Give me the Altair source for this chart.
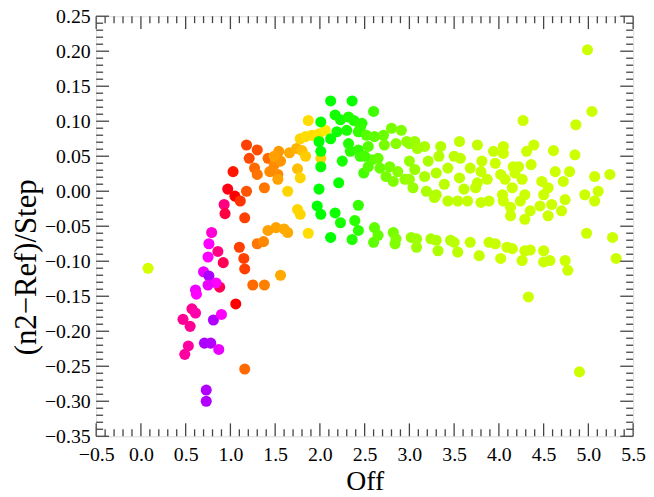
import altair as alt
import pandas as pd
import numpy as np

off = [0.08, 0.79, 0.76, 0.86, 0.92, 0.75, 0.70, 0.76, 0.88, 0.61, 0.62, 0.57, 0.61, 0.47, 0.55, 0.81, 0.90,
       0.71, 0.78, 0.87, 0.53, 0.49, 0.73, 0.73, 0.93, 0.94, 0.97, 1.05, 1.03, 0.84, 0.75,
       1.06, 1.10, 1.15, 1.16, 1.25, 1.38, 1.16, 1.11, 1.16, 1.18, 1.18, 1.30, 1.21, 1.42, 1.27, 1.30, 1.38,
       1.49, 1.54, 1.56, 1.53, 1.64, 1.30, 1.37, 1.42, 1.51, 1.60, 1.64, 1.56, 1.75, 1.78, 1.87, 1.75, 1.78,
       1.66, 1.74, 1.80, 1.49, 1.44, 1.53,
       1.87, 1.78, 1.84, 1.91, 1.99, 2.06, 2.01, 1.84,
       2.12, 2.36, 2.01, 2.17, 2.23, 2.38, 2.47, 1.99, 2.01, 2.12, 2.19, 2.30, 2.32, 2.43, 2.25, 2.01, 2.21,
       1.99, 2.34, 2.43, 2.45, 2.49, 1.97, 2.01, 2.17, 2.23, 2.39, 2.43, 2.36, 2.12, 2.43, 2.60, 2.45, 2.32,
       2.52, 2.61, 2.71, 2.80, 2.91, 3.00, 2.85, 2.72, 2.54, 2.58, 2.67, 2.74, 2.54, 2.50, 2.65, 2.78, 2.87,
       2.95, 2.82, 3.04, 3.06, 2.97, 3.06, 3.17, 3.09, 2.61, 2.65, 2.60, 2.82, 2.85, 2.84, 3.02, 3.08, 3.08, 3.00,
       3.35, 3.56, 3.76, 3.94, 4.05, 4.05, 4.27, 3.21, 3.33, 3.50, 3.57, 3.81, 3.68, 3.80, 3.96, 4.16,
       3.17, 3.30, 3.43, 3.56, 3.00, 3.19, 3.39, 3.30, 3.61, 3.74, 3.76, 3.87, 4.02, 4.07, 4.18, 4.26, 4.04, 4.15,
       3.43, 3.54, 3.65, 3.80, 3.89, 4.05, 4.13, 4.24, 3.28, 4.13, 4.29,
       3.24, 3.30, 3.32, 3.46, 3.50, 3.54, 3.68, 3.78, 3.89, 3.96, 4.02, 4.09, 4.15, 4.26, 4.29, 4.35, 4.50,
       4.57, 4.50, 4.74, 4.77, 4.98, 5.27, 5.31, 4.33, 4.90,
       4.86, 5.04, 4.99, 4.39, 4.31, 4.61, 4.85, 4.22, 4.36, 4.79, 5.07, 5.24, 4.48, 4.55, 4.72, 4.29, 4.50,
       4.96, 5.11, 4.74, 5.07, 4.59, 4.46, 4.35, 4.70, 4.55, 4.63]

resid = [-0.110, -0.059, -0.075, -0.086, -0.102, -0.094, -0.115, -0.121, -0.137, -0.141, -0.147, -0.168, -0.174,
         -0.183, -0.193, -0.184, -0.176, -0.217, -0.217, -0.226, -0.221, -0.233, -0.284, -0.300, -0.019, -0.032,
         0.003, -0.007, 0.028, -0.131, -0.134,
         -0.161, -0.080, -0.096, -0.111, -0.134, -0.134, -0.254, -0.014, -0.038, 0.000, 0.066, 0.059, 0.047,
         0.047, 0.033, 0.024, 0.005, 0.038, 0.057, 0.043, 0.024, 0.000, -0.075, -0.072, -0.056, -0.052, -0.054,
         -0.059, -0.120, -0.026, -0.033, -0.060, 0.032, 0.019, 0.055, 0.061, 0.058, 0.050, 0.028, 0.017,
         0.101, 0.075, 0.078, 0.080, 0.082, 0.087, 0.047, 0.050,
         0.129, 0.129, 0.099, 0.109, 0.102, 0.101, 0.097, 0.071, 0.057, 0.075, 0.085, 0.087, 0.068, 0.085,
         0.043, 0.035, 0.012, 0.003, 0.057, 0.059, 0.050, 0.026, -0.021, -0.033, -0.031, -0.045, -0.042, -0.056,
         -0.069, -0.066, -0.020, 0.114, 0.090, 0.106,
         0.080, 0.078, 0.080, 0.090, 0.087, 0.068, 0.068, 0.066, 0.064, 0.045, 0.033, 0.021, 0.035, 0.050,
         0.047, 0.035, 0.028, 0.017, 0.014, 0.005, 0.031, 0.071, 0.071, 0.064, 0.061, -0.052, -0.063, -0.073,
         -0.059, -0.068, -0.075, -0.066, -0.068, -0.080, 0.043,
         0.064, 0.071, 0.066, 0.057, 0.064, 0.054, 0.101, 0.043, 0.050, 0.050, 0.047, 0.043, 0.033, 0.028,
         0.040, 0.035,
         0.021, 0.026, 0.033, 0.019, 0.017, 0.000, 0.010, -0.005, 0.003, 0.005, 0.012, 0.017, 0.024, 0.017,
         0.026, 0.017, -0.005, 0.005,
         -0.014, -0.014, -0.014, -0.016, -0.014, -0.014, -0.023, -0.014, -0.009, -0.035, -0.040,
         -0.068, -0.070, -0.085, -0.070, -0.073, -0.087, -0.073, -0.092, -0.073, -0.075, -0.096, -0.080, -0.082,
         -0.099, -0.085, -0.084, -0.085, -0.099, -0.101, -0.099, -0.113, -0.060, -0.066, -0.096, -0.151, -0.258,
         0.095, 0.114, 0.202, 0.066, 0.057, 0.058, 0.052, 0.035, 0.038, 0.028, 0.021, 0.024, 0.014, 0.005,
         0.014, -0.005, -0.005, -0.005, 0.000, -0.012, -0.014, -0.019, -0.021, -0.028, -0.028, -0.035, 0.028]

hue = [70, 310, 300, 330, 340, 300, 295, 280, 340, 295, 300, 325, 320, 325, 325, 282, 300, 280, 282, 295, 322,
       322, 282, 282, 330, 345, 355, 0, 5, 300, 295,
       0, 15, 15, 15, 25, 30, 25, 12, 15, 20, 15, 18, 17, 25, 25, 27, 28, 33, 36, 35, 33, 50, 28, 32, 38, 38,
       40, 40, 40, 50, 50, 52, 45, 50, 40, 42, 45, 38, 33, 38,
       52, 50, 52, 52, 53, 55, 50, 48,
       120, 118, 120, 116, 115, 112, 110, 120, 120, 118, 116, 114, 112, 108, 115, 118, 118, 120, 110, 108, 106,
       104, 120, 120, 117, 115, 110, 110, 112, 120, 108, 106, 108, 112,
       100, 98, 95, 92, 90, 85, 88, 92, 100, 98, 95, 92, 100, 104, 96, 92, 88, 86, 90, 84, 84, 86, 84, 80, 82,
       98, 97, 98, 92, 90, 90, 84, 83, 83, 85,
       78, 75, 74, 73, 72, 72, 72, 80, 78, 76, 75, 73, 74, 73, 72, 72,
       80, 78, 76, 75, 84, 80, 76, 78, 75, 74, 74, 73, 72, 72, 72, 72, 72, 72,
       76, 75, 74, 73, 73, 72, 72, 72, 78, 72, 72,
       80, 79, 79, 77, 76, 76, 74, 74, 73, 73, 72, 72, 72, 72, 72, 72, 72, 72, 72, 72, 72, 72, 72, 72, 72, 72,
       72, 72, 72, 72, 72, 72, 72, 72, 72, 72, 72, 72, 72, 72, 72, 72, 72, 72, 72, 72, 72, 72, 72, 72, 72, 72, 72]

x_major = [-0.5, 0.0, 0.5, 1.0, 1.5, 2.0, 2.5, 3.0, 3.5, 4.0, 4.5, 5.0, 5.5]
y_major = [-0.35, -0.30, -0.25, -0.20, -0.15, -0.10, -0.05, 0.00, 0.05, 0.10, 0.15, 0.20, 0.25]

n = min(len(off), len(resid), len(hue))
df = pd.DataFrame({
    "Off": off[:n],
    "R": resid[:n],
    "c": [f"hsl({h},100%,50%)" for h in hue[:n]],
})

x_minor = [v / 10 for v in range(-5, 56) if v % 5 != 0]
y_minor = [v / 100 for v in range(-35, 26) if v % 5 != 0]

W, H = 542, 424
AX = "#444444"
FONT = "Liberation Serif"
xscale = alt.Scale(domain=[-0.5, 5.5], nice=False, zero=False)
yscale = alt.Scale(domain=[-0.35, 0.25], nice=False, zero=False)

xaxis = alt.Axis(title="Off", values=x_major, format=".1f", ticks=False, tickSize=0,
                 domain=False, grid=False, labelFlush=False, labelOverlap=False,
                 labelPadding=8, labelFontSize=20, titleFontSize=28,
                 titleY=54, titleBaseline="alphabetic",
                 labelFont=FONT, titleFont=FONT, labelColor="#000", titleColor="#000",
                 titleFontWeight="normal")
yaxis = alt.Axis(title="(n2\u2212Ref)/Step", values=y_major, format=".2f", ticks=False, tickSize=0,
                 domain=False, grid=False, labelFlush=False, labelOverlap=False,
                 labelPadding=6, labelFontSize=20, titleFontSize=31,
                 titleX=-70, titleY=253, titleBaseline="middle", titleAlign="center", titleAngle=270,
                 labelFont=FONT, titleFont=FONT, labelColor="#000", titleColor="#000",
                 titleFontWeight="normal")


def X(field):
    return alt.X(field, type="quantitative", scale=xscale, axis=xaxis, title="Off")


def Y(field):
    return alt.Y(field, type="quantitative", scale=yscale, axis=yaxis, title="(n2\u2212Ref)/Step")


points = alt.Chart(df).mark_circle(size=125, opacity=1).encode(
    x=X("Off"), y=Y("R"), color=alt.Color("c:N", scale=None),
)


def xticks(vals, y0, y1):
    return alt.Chart(pd.DataFrame({"t": vals})).mark_rule(color=AX, strokeWidth=1.3).encode(
        x=X("t"), y=alt.value(y0), y2=alt.value(y1))


def yticks(vals, x0, x1):
    return alt.Chart(pd.DataFrame({"t": vals})).mark_rule(color=AX, strokeWidth=1.3).encode(
        y=Y("t"), x=alt.value(x0), x2=alt.value(x1))


MJ, MN = 13, 7
layers = [
    points,
    xticks(x_major, H, H - MJ), xticks(x_minor, H, H - MN),
    xticks(x_major, 0, MJ), xticks(x_minor, 0, MN),
    yticks(y_major, 0, MJ), yticks(y_minor, 0, MN),
    yticks(y_major, W, W - MJ), yticks(y_minor, W, W - MN),
]

chart = alt.layer(*layers).properties(
    width=W, height=H,
    autosize=alt.AutoSizeParams(type="none"),
    padding={"left": 89, "top": 6, "right": 13, "bottom": 55},
).configure_view(
    stroke=AX, strokeWidth=2
).configure(background="white")

chart.save("out.html", embed_options={"renderer": "svg", "actions": False})
